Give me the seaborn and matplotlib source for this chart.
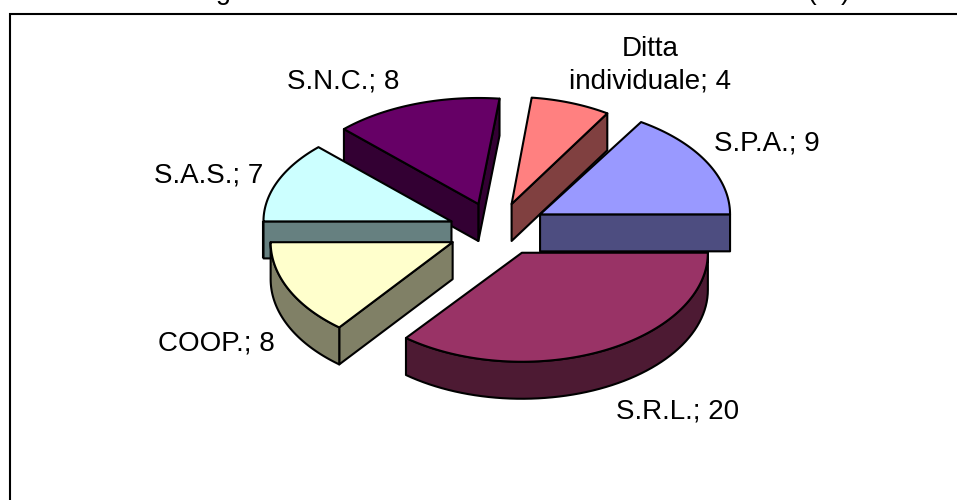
import matplotlib
matplotlib.use("Agg")
import matplotlib.pyplot as plt
import numpy as np
import seaborn as sns

categories = ["Ditta\nindividuale", "S.P.A.", "S.R.L.", "COOP.", "S.A.S.", "S.N.C."]
values = [4, 9, 20, 8, 7, 8]
top_colors = ["#FF8080", "#9999FF", "#993366", "#FFFFCC", "#CCFFFF", "#660066"]
side_colors = ["#804040", "#4D4D80", "#4D1A33", "#808066", "#668080", "#330033"]
title = "Forma giuridica delle società intervistate nel Mantovano (%)"

# pie geometry in pixels, y goes down
CX, CY = 496, 229.5
DEPTH = 37
EXPLODE = 0.265
FIRST_ANGLE = 83.6
BASE_RX, BASE_RY = 190, 110
# the 3d view is not a clean ellipse, so each slice gets its own radii and nudge
SLICE_RX = [180, 190, 186, 182, 188, 190]
SLICE_RY = [107, 109, 109, 109, 105, 106]
NUDGE = [(-1, 2), (0, -1), (4, -3), (2, 0), (2, 3), (-1, 2)]
LABEL_POS = [(650, 65), (767, 144), (678, 411), (216, 344), (209, 175), (343, 81)]
DRAW_ORDER = [5, 0, 1, 4, 3, 2]


def pie_xy(cx, cy, rx, ry, deg):
    rad = np.radians(deg)
    return cx + rx * np.cos(rad), cy - ry * np.sin(rad)


def draw_face(ax, xs, ys, color):
    ax.fill(xs, ys, facecolor=color, edgecolor="black", linewidth=1.5, joinstyle="round")


sns.set_theme(style="white")
plt.rcParams["font.family"] = ["Liberation Sans", "DejaVu Sans"]

fig, ax = plt.subplots(figsize=(9.57, 5), dpi=100)
ax.set_position([0, 0, 1, 1])
ax.set_xlim(0, 957)
ax.set_ylim(500, 0)
ax.axis("off")

# angles run clockwise from the first slice
total = sum(values)
sweeps = [v / total * 360 for v in values]
ends = FIRST_ANGLE - np.cumsum([0] + sweeps[:-1])
starts = ends - np.array(sweeps)

for i in DRAW_ORDER:
    a1, a2 = starts[i], ends[i]
    rx, ry = SLICE_RX[i], SLICE_RY[i]
    mid = np.radians((a1 + a2) / 2)
    tx = CX + EXPLODE * BASE_RX * np.cos(mid) + NUDGE[i][0]
    ty = CY - EXPLODE * BASE_RY * np.sin(mid) + NUDGE[i][1]

    # side walls that face the viewer
    for ang, visible in [(a1, np.cos(np.radians(a1)) > 0), (a2, np.cos(np.radians(a2)) < 0)]:
        if visible:
            ex, ey = pie_xy(tx, ty, rx, ry, ang)
            draw_face(ax, [tx, ex, ex, tx], [ty, ey, ey + DEPTH, ty + DEPTH], side_colors[i])

    # rim, only the front half of the ellipse
    lo, hi = max(a1, -180), min(a2, 0)
    if hi > lo:
        arc = np.linspace(lo, hi, 60)
        px, py = pie_xy(tx, ty, rx, ry, arc)
        draw_face(ax, np.r_[px, px[::-1]], np.r_[py, py[::-1] + DEPTH], side_colors[i])

    arc = np.linspace(a1, a2, 80)
    px, py = pie_xy(tx, ty, rx, ry, arc)
    draw_face(ax, np.r_[tx, px], np.r_[ty, py], top_colors[i])

for cat, val, (x, y) in zip(categories, values, LABEL_POS):
    ax.text(x, y, f"{cat}; {val}", ha="center", va="center", fontsize=20, color="black",
            linespacing=1.3)

# chart frame is cut by the right and bottom picture edges
ax.plot([10, 10, 957], [500, 14, 14], color="black", linewidth=1.5, solid_joinstyle="miter")
ax.text(490, -1, title, ha="center", va="baseline", fontsize=19.5, color="black")

fig.savefig("out.png", dpi=100)
